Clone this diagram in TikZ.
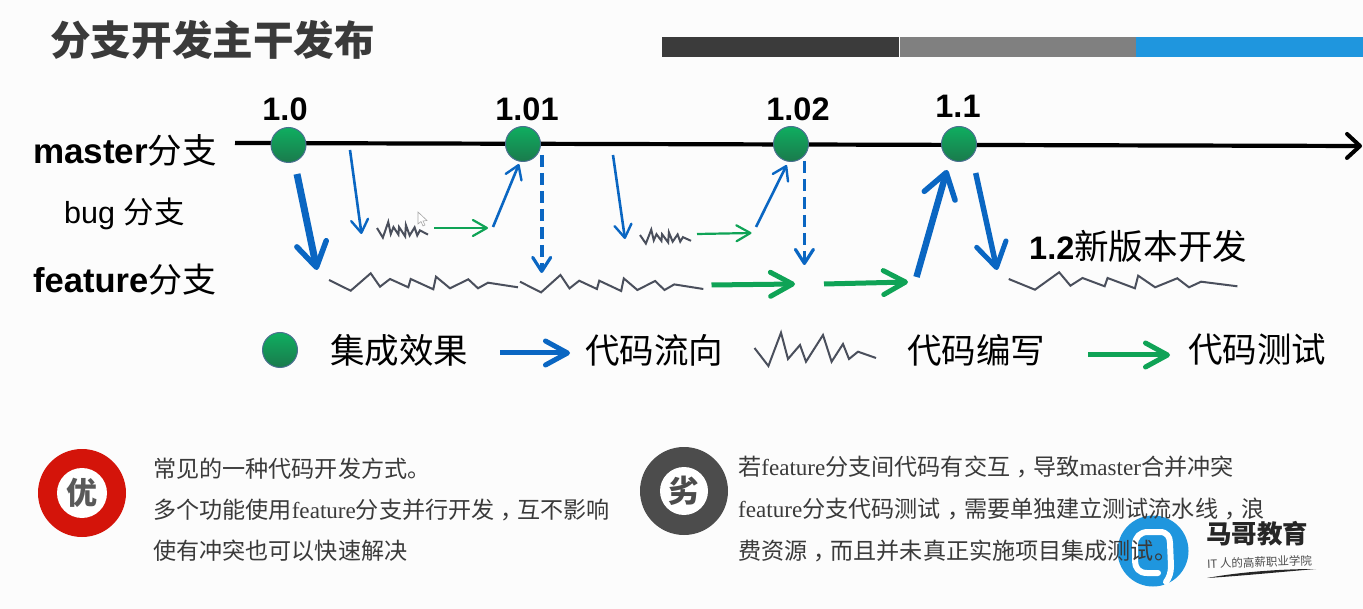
\documentclass[tikz,border=0pt]{standalone}
\usepackage{fontspec}
\setmainfont{Liberation Sans}
\newfontfamily\cjk{Noto Sans CJK SC}
\newfontfamily\tms{Liberation Serif}
\usetikzlibrary{arrows.meta}
\definecolor{codeblue}{HTML}{0A66C2}
\definecolor{codegreen}{HTML}{0FA356}
\definecolor{zigc}{HTML}{4A4F5C}
\definecolor{ink}{HTML}{3A3A3A}
\definecolor{dotedge}{HTML}{4A7090}
\definecolor{dottop}{HTML}{0FAE60}
\definecolor{dotbot}{HTML}{1A7A4C}
\definecolor{logoblue}{HTML}{1F96DE}
\definecolor{goodred}{HTML}{D4140A}
\newcommand{\fs}[1]{\fontsize{#1}{#1}\selectfont}
\newcommand{\cm}{\kern.28em，\kern-.28em}
\newcommand{\zigzag}[4]{\begin{scope}[shift={(#1,#2)},xscale=#3,yscale=#4]
\draw[zigline] (0,0)--(21.7,10.7)--(41.7,-6.7)--(51,6.7)--(61,-1)--(79.3,7.3)--(81.7,-1)--(104.3,9.3)--(107,-3.3)--(121,8.3)--(139.3,-.7)--(149,8.3)--(159,2.7)--(189,7.3);
\end{scope}}
\tikzset{
 zigline/.style={draw=zigc,line width=2pt,line join=miter},
 flowarrow/.style n args={4}{draw=codeblue,line width=#1pt,line cap=butt,-{Straight Barb[length=#2pt,width=#3pt,line width=#4pt,round]}},
 testarrow/.style n args={4}{draw=codegreen,line width=#1pt,line cap=butt,-{Straight Barb[length=#2pt,width=#3pt,line width=#4pt,round]}},
 dashpart/.style={dash pattern=on 12pt off 6pt,line cap=butt},
 dot/.style={circle,minimum size=35pt,inner sep=0pt,top color=dottop,bottom color=dotbot,draw=dotedge,line width=1pt},
 ver/.style={inner sep=0pt,font=\bfseries\fs{32.5}},
 leg/.style={inner sep=0pt,text=black,font=\cjk\fs{34.5}},
 body/.style={inner sep=0pt,anchor=west,text=ink,font=\cjk\fs{23.1}},
 badge/.style={circle,inner sep=0pt,minimum size=#1pt},
}
\begin{document}
\begin{tikzpicture}[x=1pt,y=-1pt]
\useasboundingbox (0,0) rectangle (1363,609);
\fill[white!99!black] (0,0) rectangle (1363,609);
% title + bars
\node[inner sep=0pt,anchor=west,text=ink] (title) at (50,40) {\cjk\bfseries\fs{40.6}分支开发主干发布};
\fill[black!77] (662,37) rectangle (899,57);
\fill[black!50] (900,37) rectangle (1136,57);
\fill[logoblue] (1136,37) rectangle (1363,57);
% labels
\node[inner sep=0pt,anchor=west] (lmaster) at (33,150) {\bfseries\fs{35}master\cjk\mdseries\fs{34.5}分支};
\node[inner sep=0pt,anchor=west] (lbug) at (64,214) {\fs{30.5}bug \cjk 分支};
\node[inner sep=0pt,anchor=west] (lfeat) at (33,280) {\bfseries\fs{34.5}feature\cjk\mdseries\fs{34}分支};
% master line
\coordinate (mstart) at (235,143);
\coordinate (mend) at (1362,146);
\draw[line width=4.2pt,-{Straight Barb[length=13pt,width=24pt,line width=4pt,round]}] (mstart)--(mend);
% versions
\node[dot] (v10) at (288.5,145) {};
\node[dot] (v101) at (523,144) {};
\node[dot] (v102) at (791,144) {};
\node[dot] (v11) at (959,144) {};
\node[ver] (t10) at (285,109) {1.0};
\node[ver] (t101) at (527,109) {1.01};
\node[ver] (t102) at (798,109) {1.02};
\node[ver] (t11) at (958,106) {1.1};
% free ends
\foreach \n/\p in {a0/{297,174},a1/{317,270},b0/{350,150},b1/{361.5,234},c0/{434,228},c1/{488,228},d0/{493,227},d1/{519,164},
 e0/{541.7,155},e1/{541.7,273},f0/{613,155},f1/{625,239},g0/{697,234},g1/{751.5,233},h0/{756,227},h1/{786.7,165},
 i0/{804.4,161},i1/{804.4,265},j0/{711.5,285},j1/{795,284},k0/{824,284},k1/{908,282},l0/{916.5,277},l1/{947,170},
 m0/{975.7,173},m1/{997,270},n0/{500,353},n1/{570,353},o0/{1088,355},o1/{1170,355}}
 {\coordinate (\n) at (\p);}
\draw[flowarrow={7}{24}{30}{5.5}] (a0)--(a1);
\draw[flowarrow={2.6}{13}{17}{2.4}] (b0)--(b1);
\draw[testarrow={2.2}{14}{16}{2.2}] (c0)--(c1);
\draw[flowarrow={2.6}{13}{17}{2.4}] (d0)--(d1);
\draw[flowarrow={3.6}{14}{18}{3.2},dashpart] (e0)--(e1);
\draw[flowarrow={2.6}{13}{17}{2.4}] (f0)--(f1);
\draw[testarrow={2.2}{14}{16}{2.2}] (g0)--(g1);
\draw[flowarrow={2.6}{13}{17}{2.4}] (h0)--(h1);
\draw[flowarrow={3.6}{14}{18}{3.2},dashpart] (i0)--(i1);
\draw[testarrow={5}{22}{24}{5}] (j0)--(j1);
\draw[testarrow={5}{22}{24}{5}] (k0)--(k1);
\draw[flowarrow={6.5}{24}{32}{5.5}] (l0)--(l1);
\draw[flowarrow={5.5}{24}{30}{5}] (m0)--(m1);
\draw[flowarrow={5}{22}{24}{5}] (n0)--(n1);
\draw[testarrow={5}{22}{24}{5}] (o0)--(o1);
% code writing
\zigzag{329}{280}{1}{1}
\zigzag{520}{281.7}{.97}{1}
\zigzag{1008.7}{279}{1.21}{1}
\zigzag{377}{228}{.27}{.9}
\zigzag{640}{235}{.27}{.8}
\draw[zigline] (754.5,348)--(768.4,366)--(781,332.7)--(788,359)--(800,345)--(806,361.7)--(823,335)--(831.6,361.7)--(843,344)--(849,359)--(858,351.7)--(876,358);
% cursor
\draw[gray!70,line width=.6pt,fill=white] (418,212)--(418,224)--(421,221.5)--(423,226)--(425,225)--(423,221)--(427,220.5)--cycle;
\node[inner sep=0pt,anchor=west] (t12) at (1029,246) {\bfseries\fs{32.5}1.2\cjk\mdseries\fs{34.6}新版本开发};
% legend
\node[dot] (ldot) at (280,350) {};
\node[leg,anchor=west] (l1) at (330,350) {集成效果};
\node[leg,anchor=west] (l2) at (585,350) {代码流向};
\node[leg,anchor=west] (l3) at (907,350) {代码编写};
\node[leg,anchor=west] (l4) at (1188,350) {代码测试};
% badges
\node[badge=88,fill=goodred] (good) at (82,493) {};
\node[badge=50,fill=white,text=black!65,font=\cjk\bfseries\fs{31}] (goodi) at (82,493) {优};
\node[badge=88,fill=black!70] (bad) at (684,491) {};
\node[badge=48,fill=white,text=black!70,font=\cjk\bfseries\fs{31}] (badi) at (684,491) {劣};
% logo
\node[badge=71,fill=logoblue] (logo) at (1153,551) {};
\draw[white,line width=6pt,line cap=round,line join=round]
 (1158,573) -- (1147,573) .. controls (1139,573) and (1135,568) .. (1135,561) -- (1135,545)
 .. controls (1135,537) and (1140,532) .. (1148,532) -- (1160,532)
 .. controls (1167,532) and (1170,537) .. (1170,543) -- (1171,566) .. controls (1171,573) and (1169,578) .. (1166,582);
% body text
\node[body] (g1) at (153,469) {常见的一种代码开发方式。};
\node[body] (g2) at (153,510) {多个功能使用{\tms feature}分支并行开发\cm 互不影响};
\node[body] (g3) at (153,551) {使有冲突也可以快速解决};
\node[body] (b1t) at (738,467) {若{\tms feature}分支间代码有交互\cm 导致{\tms master}合并冲突};
\node[body] (b2t) at (738,509) {{\tms feature}分支代码测试\cm 需要单独建立测试流水线\cm 浪};
\node[body] (b3t) at (738,551) {费资源\cm 而且并未真正实施项目集成测试。};
% logo text
\node[inner sep=0pt,anchor=west,text=black!85] (brand) at (1206,534) {\cjk\bfseries\fs{25.5}马哥教育};
\node[inner sep=0pt,anchor=west,text=black!70,rotate=2] (slogan) at (1207,564) {\cjk\fs{11.5}IT 人的高薪职业学院};
\fill[black!85] (1207,578) .. controls (1240,572) and (1280,569) .. (1316,569) .. controls (1280,572) and (1240,576) .. (1207,578);
\end{tikzpicture}
\end{document}
